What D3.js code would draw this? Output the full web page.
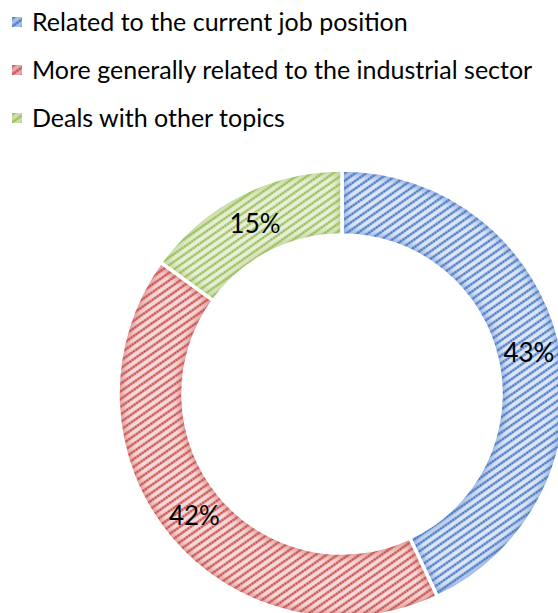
<!DOCTYPE html>
<html>
<head>
<meta charset="utf-8">
<script src="https://cdn.jsdelivr.net/npm/d3@7"></script>
<style>
  html, body { margin: 0; padding: 0; background: #fff; }
  svg { display: block; }
  text { font-family: Lato, "Open Sans", sans-serif; fill: #000; }
</style>
</head>
<body>
<svg id="chart" width="558" height="613"></svg>
<script>
// Share of training content, by relation to work
const categories = [
  "Related to the current job position",
  "More generally related to the industrial sector",
  "Deals with other topics"
];
const shares = [43, 42, 15];
const labels = ["43%", "42%", "15%"];
const stripeColors = ["#4677c6", "#c84d4c", "#98bb56"];
const baseColors = ["#dbe5f5", "#f5d8d7", "#e7f0d7"];

const W = 558, H = 613;
const cx = 342, cy = 394;
const outerR = 224, innerR = 159;

const svg = d3.select("#chart");
const defs = svg.append("defs");

// Diagonal stripe pattern per series
const period = 6.3;
categories.forEach((c, i) => {
  const p = defs.append("pattern")
    .attr("id", "stripe" + i)
    .attr("patternUnits", "userSpaceOnUse")
    .attr("width", 12)
    .attr("height", period)
    .attr("patternTransform", "rotate(-35)");
  p.append("rect").attr("width", 12).attr("height", period).attr("fill", baseColors[i]);
  p.append("line")
    .attr("x1", 0).attr("x2", 12).attr("y1", period / 2).attr("y2", period / 2)
    .attr("stroke", stripeColors[i])
    .attr("stroke-opacity", 0.5)
    .attr("stroke-width", 2.6);
  p.append("line")
    .attr("x1", 0).attr("x2", 12).attr("y1", period / 2).attr("y2", period / 2)
    .attr("stroke", stripeColors[i])
    .attr("stroke-width", 1.9)
    .attr("stroke-dasharray", "2,1");
});

defs.append("filter").attr("id", "soft")
  .attr("x", "-20%").attr("y", "-20%").attr("width", "140%").attr("height", "140%")
  .append("feGaussianBlur").attr("stdDeviation", 3);

const pie = d3.pie().sort(null).value(d => d);
const arcs = pie(shares);
const arc = d3.arc().innerRadius(innerR).outerRadius(outerR);

const g = svg.append("g").attr("transform", `translate(${cx},${cy})`);

arcs.forEach((a, i) => {
  defs.append("clipPath").attr("id", "clip" + i)
    .append("path").attr("d", arc(a));
});

const slices = g.selectAll("g.slice").data(arcs).join("g").attr("class", "slice");

slices.append("path")
  .attr("d", arc)
  .attr("fill", (d, i) => `url(#stripe${i})`);

// soft darkening along the slice edges
slices.append("g")
  .attr("clip-path", (d, i) => `url(#clip${i})`)
  .append("path")
  .attr("d", arc)
  .attr("fill", "none")
  .attr("stroke", (d, i) => stripeColors[i])
  .attr("stroke-opacity", 0.45)
  .attr("stroke-width", 10)
  .attr("filter", "url(#soft)");

slices.append("path")
  .attr("d", arc)
  .attr("fill", "none")
  .attr("stroke", "#fff")
  .attr("stroke-width", 3.5)
  .attr("stroke-linejoin", "miter");

const labelArc = d3.arc().innerRadius((innerR + outerR) / 2).outerRadius((innerR + outerR) / 2);
g.selectAll("text.pct").data(arcs).join("text")
  .attr("class", "pct")
  .attr("transform", d => `translate(${labelArc.centroid(d)})`)
  .attr("text-anchor", "middle")
  .attr("dy", "0.36em")
  .attr("font-size", 26)
  .text((d, i) => labels[i]);

// Legend
const legend = svg.append("g");
const rows = legend.selectAll("g").data(categories).join("g")
  .attr("transform", (d, i) => `translate(0,${31 + i * 48})`);
rows.append("rect")
  .attr("x", 12).attr("y", -14).attr("width", 10).attr("height", 10)
  .attr("fill", (d, i) => `url(#stripe${i})`);
rows.append("rect")
  .attr("x", 12).attr("y", -14).attr("width", 10).attr("height", 10)
  .attr("fill", (d, i) => stripeColors[i]).attr("opacity", 0.35);
rows.append("text")
  .attr("x", 32).attr("y", 0)
  .attr("font-size", 25)
  .text(d => d);
</script>
</body>
</html>
